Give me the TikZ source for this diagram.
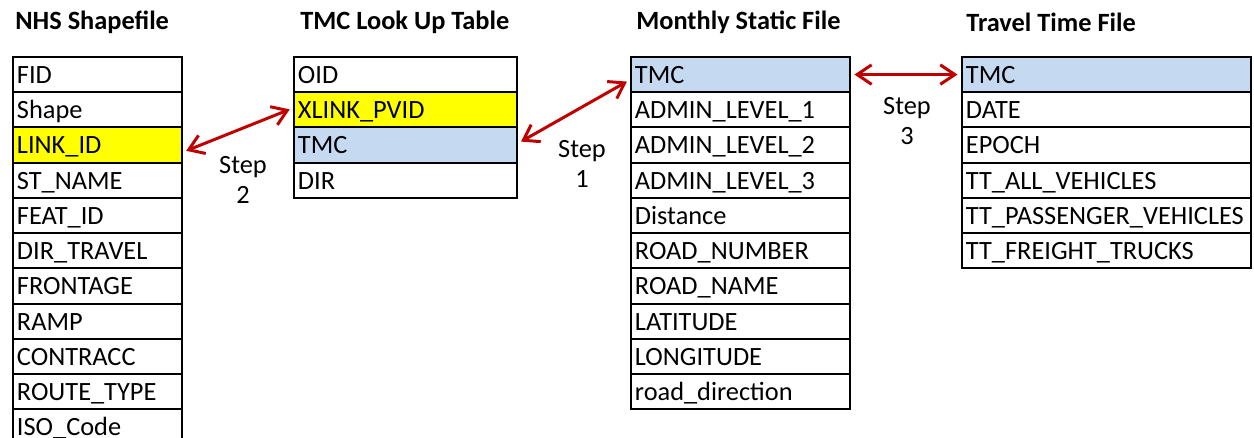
\documentclass[tikz,border=0pt]{standalone}
\usepackage{fontspec}
\setmainfont{Carlito}
\usepackage{xcolor}
\usepackage{tikz}
\usetikzlibrary{arrows.meta, positioning}
\definecolor{keyyellow}{HTML}{FFFF00}
\definecolor{tmcblue}{HTML}{C5D9F1}
\definecolor{linkred}{HTML}{C00000}
\tikzset{
  tabletitle/.style={
    anchor=west, inner sep=0pt,
    font=\fontsize{15}{18}\selectfont\bfseries
  },
  fieldcell/.style={
    draw, line width=1.1pt, anchor=north west, align=left,
    minimum height=0.705cm, inner xsep=0.08cm, inner ysep=0pt,
    text height=12pt, text depth=2pt,
    font=\fontsize{15}{18}\selectfont, fill=white
  },
  keycell/.style={fieldcell, fill=keyyellow},
  tmccell/.style={fieldcell, fill=tmcblue},
  shpcell/.style={fieldcell, minimum width=3.38cm, text width=3.22cm},
  lutcell/.style={fieldcell, minimum width=4.46cm, text width=4.30cm},
  mscell/.style={fieldcell, minimum width=4.38cm, text width=4.22cm},
  ttcell/.style={fieldcell, minimum width=5.78cm, text width=5.62cm},
  linkarrow/.style={
    {Straight Barb[length=2.9mm, width=3.9mm]}-{Straight Barb[length=2.9mm, width=3.9mm]},
    line width=1.7pt, color=linkred, shorten <=2pt, shorten >=2pt
  },
  steplabel/.style={
    align=center, font=\fontsize{15}{17.5}\selectfont
  },
}
\begin{document}
\begin{tikzpicture}
  \useasboundingbox (0,0) rectangle (25.08,-8.76);

  % ── Titles ─────────────────────────────────────────────────────
  \node[tabletitle] (shptitle) at (0.30, -0.44) {NHS Shapefile};
  \node[tabletitle] (luttitle) at (6.00, -0.44) {TMC Look Up Table};
  \node[tabletitle] (mstitle) at (12.72, -0.44) {Monthly Static File};
  \node[tabletitle] (tttitle) at (19.32, -0.44) {Travel Time File};

  % ── NHS Shapefile ──────────────────────────────────────────────
  \node[shpcell] (shpfid) at (0.24, -1.12) {FID};
  \node[shpcell] (shpshape) at (0.24, -1.825) {Shape};
  \node[shpcell, keycell] (shplink) at (0.24, -2.53) {LINK\_ID};
  \node[shpcell] (shpstname) at (0.24, -3.235) {ST\_NAME};
  \node[shpcell] (shpfeat) at (0.24, -3.94) {FEAT\_ID};
  \node[shpcell] (shpdir) at (0.24, -4.645) {DIR\_TRAVEL};
  \node[shpcell] (shpfront) at (0.24, -5.35) {FRONTAGE};
  \node[shpcell] (shpramp) at (0.24, -6.055) {RAMP};
  \node[shpcell] (shpcontr) at (0.24, -6.76) {CONTRACC};
  \node[shpcell] (shproute) at (0.24, -7.465) {ROUTE\_TYPE};
  \node[shpcell] (shpiso) at (0.24, -8.17) {ISO\_Code};

  % ── TMC Look Up Table ──────────────────────────────────────────
  \node[lutcell] (lutoid) at (5.86, -1.12) {OID};
  \node[lutcell, keycell] (lutxlink) at (5.86, -1.825) {XLINK\_PVID};
  \node[lutcell, tmccell] (luttmc) at (5.86, -2.53) {TMC};
  \node[lutcell] (lutdir) at (5.86, -3.235) {DIR};

  % ── Monthly Static File ────────────────────────────────────────
  \node[mscell, tmccell] (mstmc) at (12.60, -1.12) {TMC};
  \node[mscell] (msadm1) at (12.60, -1.825) {ADMIN\_LEVEL\_1};
  \node[mscell] (msadm2) at (12.60, -2.53) {ADMIN\_LEVEL\_2};
  \node[mscell] (msadm3) at (12.60, -3.235) {ADMIN\_LEVEL\_3};
  \node[mscell] (msdist) at (12.60, -3.94) {Distance};
  \node[mscell] (msroadno) at (12.60, -4.645) {ROAD\_NUMBER};
  \node[mscell] (msroadname) at (12.60, -5.35) {ROAD\_NAME};
  \node[mscell] (mslat) at (12.60, -6.055) {LATITUDE};
  \node[mscell] (mslon) at (12.60, -6.76) {LONGITUDE};
  \node[mscell] (msroaddir) at (12.60, -7.465) {road\_direction};

  % ── Travel Time File ───────────────────────────────────────────
  \node[ttcell, tmccell] (tttmc) at (19.22, -1.12) {TMC};
  \node[ttcell] (ttdate) at (19.22, -1.825) {DATE};
  \node[ttcell] (ttepoch) at (19.22, -2.53) {EPOCH};
  \node[ttcell] (ttall) at (19.22, -3.235) {TT\_ALL\_VEHICLES};
  \node[ttcell] (ttpass) at (19.22, -3.94) {TT\_PASSENGER\_VEHICLES};
  \node[ttcell] (ttfreight) at (19.22, -4.645) {TT\_FREIGHT\_TRUCKS};

  % ── Join steps ─────────────────────────────────────────────────
  \draw[linkarrow] ([yshift=-4pt]shplink.east) -- ([yshift=1pt]lutxlink.west);
  \node[steplabel] (step2) at (4.86, -3.6) {Step\\2};

  \draw[linkarrow] ([yshift=1pt]luttmc.east) -- ([yshift=-3pt]mstmc.west);
  \node[steplabel] (step1) at (11.64, -3.28) {Step\\1};

  \draw[linkarrow] (mstmc.east) -- (tttmc.west);
  \node[steplabel] (step3) at (18.14, -2.42) {Step\\3};
\end{tikzpicture}
\end{document}
